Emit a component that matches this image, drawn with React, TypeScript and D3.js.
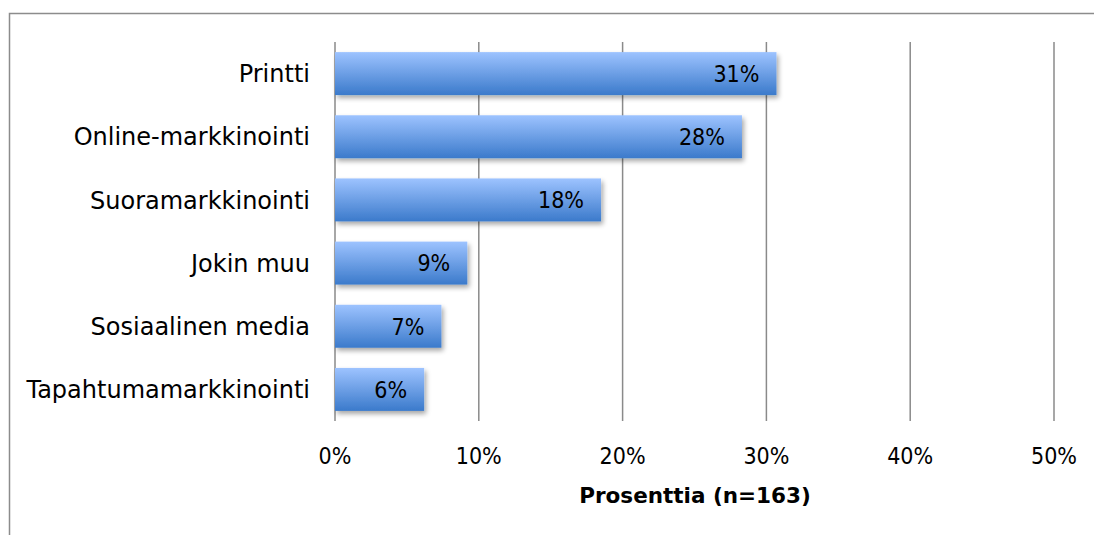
import React from "react";
import * as d3 from "d3";

const categories = [
  "Printti",
  "Online-markkinointi",
  "Suoramarkkinointi",
  "Jokin muu",
  "Sosiaalinen media",
  "Tapahtumamarkkinointi",
];
const values = [30.7, 28.3, 18.5, 9.2, 7.4, 6.2];
const valueLabels = ["31%", "28%", "18%", "9%", "7%", "6%"];
const ticks = [0, 10, 20, 30, 40, 50];
const axisTitle = "Prosenttia (n=163)";

const W = 1094;
const H = 535;
const FONT = "'DejaVu Sans', sans-serif";
const NUMFONT = "'DejaVu Sans Condensed', 'DejaVu Sans', sans-serif";

export default function App() {
  const x = d3.scaleLinear().domain([0, 50]).range([335, 1054]);
  const y = d3
    .scaleBand<string>()
    .domain(categories)
    .range([42, 421])
    .paddingInner(0.32)
    .paddingOuter(0.16);
  const bw = y.bandwidth();
  return (
    <svg
      width={W}
      height={H}
      style={{ position: "absolute", left: 0, top: 0 }}
      fontFamily={FONT}
    >
      <defs>
        <linearGradient id="barGrad" x1="0" y1="0" x2="0" y2="1">
          <stop offset="0%" stopColor="#9dc3ff" />
          <stop offset="100%" stopColor="#3b7acb" />
        </linearGradient>
        <filter id="shadow" x="-10%" y="-30%" width="130%" height="170%">
          <feGaussianBlur in="SourceAlpha" stdDeviation="2.5" />
          <feOffset dx="2" dy="3" result="ob" />
          <feComponentTransfer>
            <feFuncA type="linear" slope="0.35" />
          </feComponentTransfer>
          <feMerge>
            <feMergeNode />
            <feMergeNode in="SourceGraphic" />
          </feMerge>
        </filter>
      </defs>
      <rect x={0} y={0} width={W} height={H} fill="#fff" />
      <path
        d={`M9.5,${H} L9.5,13.5 L${W},13.5`}
        fill="none"
        stroke="#8c8c8c"
        strokeWidth={1.5}
      />
      {ticks.map((t) => (
        <line
          key={t}
          x1={x(t)}
          x2={x(t)}
          y1={42}
          y2={421}
          stroke="#8a8a8a"
          strokeWidth={1.5}
        />
      ))}
      {categories.map((c, i) => (
        <g key={c}>
          <rect
            x={x(0)}
            y={y(c)!}
            width={x(values[i]) - x(0)}
            height={bw}
            fill="url(#barGrad)"
            filter="url(#shadow)"
          />
          <text
            x={x(values[i]) - 17}
            y={y(c)! + bw / 2}
            dy="0.36em"
            textAnchor="end"
            fontSize={23}
            fontFamily={NUMFONT}
            fill="#000"
          >
            {valueLabels[i]}
          </text>
          <text
            x={310}
            y={y(c)! + bw / 2}
            dy="0.36em"
            textAnchor="end"
            fontSize={24}
            fill="#000"
          >
            {c}
          </text>
        </g>
      ))}
      {ticks.map((t) => (
        <text
          key={t}
          x={x(t)}
          y={456}
          dy="0.36em"
          textAnchor="middle"
          fontSize={23}
          fontFamily={NUMFONT}
          fill="#000"
        >
          {t + "%"}
        </text>
      ))}
      <text
        x={695}
        y={495}
        dy="0.36em"
        textAnchor="middle"
        fontSize={21.5}
        fontWeight="bold"
        fill="#000"
      >
        {axisTitle}
      </text>
    </svg>
  );
}
